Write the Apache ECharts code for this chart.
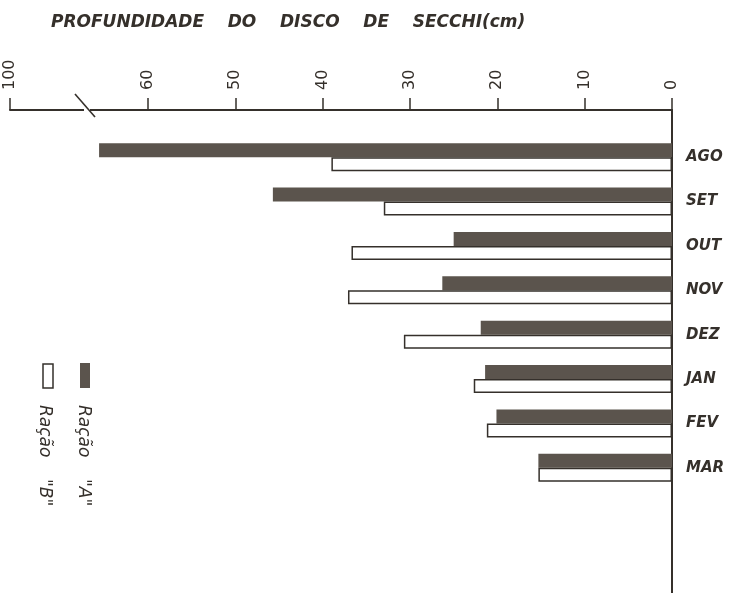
<!DOCTYPE html>
<html><head><meta charset="utf-8">
<script src="https://cdn.jsdelivr.net/npm/echarts@6/dist/echarts.min.js"></script>
<style>html,body{margin:0;padding:0;background:#fff}#c{width:736px;height:593px}</style>
</head><body><div id="c"></div>
<script>
const titleText = 'PROFUNDIDADE    DO    DISCO    DE    SECCHI(cm)';
const categories = ['AGO', 'SET', 'OUT', 'NOV', 'DEZ', 'JAN', 'FEV', 'MAR'];
const seriesNames = ['Ração    "A"', 'Ração    "B"'];
const racaoA = [65.6, 45.7, 25.0, 26.3, 21.9, 21.4, 20.1, 15.3];
const racaoB = [39.0, 33.0, 36.7, 37.1, 30.7, 22.7, 21.2, 15.3];
// the last tick sits past the axis break and is labelled 100
const tickValues = [0, 10, 20, 30, 40, 50, 60, 75.8];
const tickLabels = ['0', '10', '20', '30', '40', '50', '60', '100'];

const DARK = '#5b544d', INK = '#35302b';
const FONT = 'DejaVu Sans';
const chart = echarts.init(document.getElementById('c'), null, {renderer: 'canvas'});
const axisMax = tickValues[tickValues.length - 1];

const option = {
  backgroundColor: '#ffffff',
  animation: false,
  title: {
    text: titleText, left: 46, top: 9,
    textStyle: {fontFamily: FONT, fontStyle: 'italic', fontWeight: 'bold', fontSize: 17, color: INK}
  },
  grid: [
    {left: 10, right: 64, top: 135, bottom: 103},
    {left: 10, right: 64, top: 110, bottom: 0}
  ],
  xAxis: [
    {
      type: 'value', gridIndex: 0, position: 'top', offset: 25, inverse: true,
      min: 0, max: axisMax,
      axisLine: {show: true, lineStyle: {color: INK, width: 2}},
      axisTick: {show: true, length: 12, customValues: tickValues, lineStyle: {color: INK, width: 1.5}},
      axisLabel: {
        show: true, customValues: tickValues, rotate: -90, margin: 20,
        formatter: function (v) {
          for (let i = 0; i < tickValues.length; i++) {
            if (Math.abs(tickValues[i] - v) < 1e-6) return tickLabels[i];
          }
          return '';
        },
        fontFamily: FONT, fontSize: 16, color: INK
      },
      splitLine: {show: false}
    },
    {type: 'value', gridIndex: 1, show: false, min: 0, max: 1}
  ],
  yAxis: [
    {
      type: 'category', gridIndex: 0, data: categories, inverse: true, position: 'right',
      axisLine: {show: false}, axisTick: {show: false},
      axisLabel: {margin: 14, fontFamily: FONT, fontStyle: 'italic', fontWeight: 'bold', fontSize: 15, color: INK}
    },
    {
      type: 'value', gridIndex: 1, position: 'right', min: 0, max: 1,
      axisLine: {show: true, onZero: false, lineStyle: {color: INK, width: 2}},
      axisTick: {show: false}, axisLabel: {show: false}, splitLine: {show: false}
    }
  ],
  series: [
    {name: seriesNames[0], type: 'bar', xAxisIndex: 0, yAxisIndex: 0, data: racaoA,
     barWidth: 14, barGap: '0%', itemStyle: {color: DARK}},
    {name: seriesNames[1], type: 'bar', xAxisIndex: 0, yAxisIndex: 0, data: racaoB,
     barWidth: 14, barGap: '0%', itemStyle: {color: '#ffffff', borderColor: INK, borderWidth: 1.5}}
  ],
  graphic: [
    // axis break mark
    {type: 'rect', z: 100, shape: {x: 84, y: 107, width: 6, height: 6}, style: {fill: '#ffffff'}},
    {type: 'line', z: 101, shape: {x1: 75, y1: 94, x2: 95, y2: 117}, style: {stroke: INK, lineWidth: 1.6}},
    // legend (rotated)
    {type: 'rect', z: 100, shape: {x: 80, y: 363, width: 10, height: 25}, style: {fill: DARK}},
    {type: 'text', z: 100, x: 83, y: 405, rotation: -Math.PI / 2,
     style: {text: seriesNames[0], font: 'italic 17px "DejaVu Sans"', fill: INK, align: 'left', verticalAlign: 'middle'}},
    {type: 'rect', z: 100, shape: {x: 43, y: 364, width: 10, height: 24}, style: {fill: '#ffffff', stroke: INK, lineWidth: 1.5}},
    {type: 'text', z: 100, x: 44, y: 405, rotation: -Math.PI / 2,
     style: {text: seriesNames[1], font: 'italic 17px "DejaVu Sans"', fill: INK, align: 'left', verticalAlign: 'middle'}}
  ]
};
chart.setOption(option);
</script>
</body></html>
